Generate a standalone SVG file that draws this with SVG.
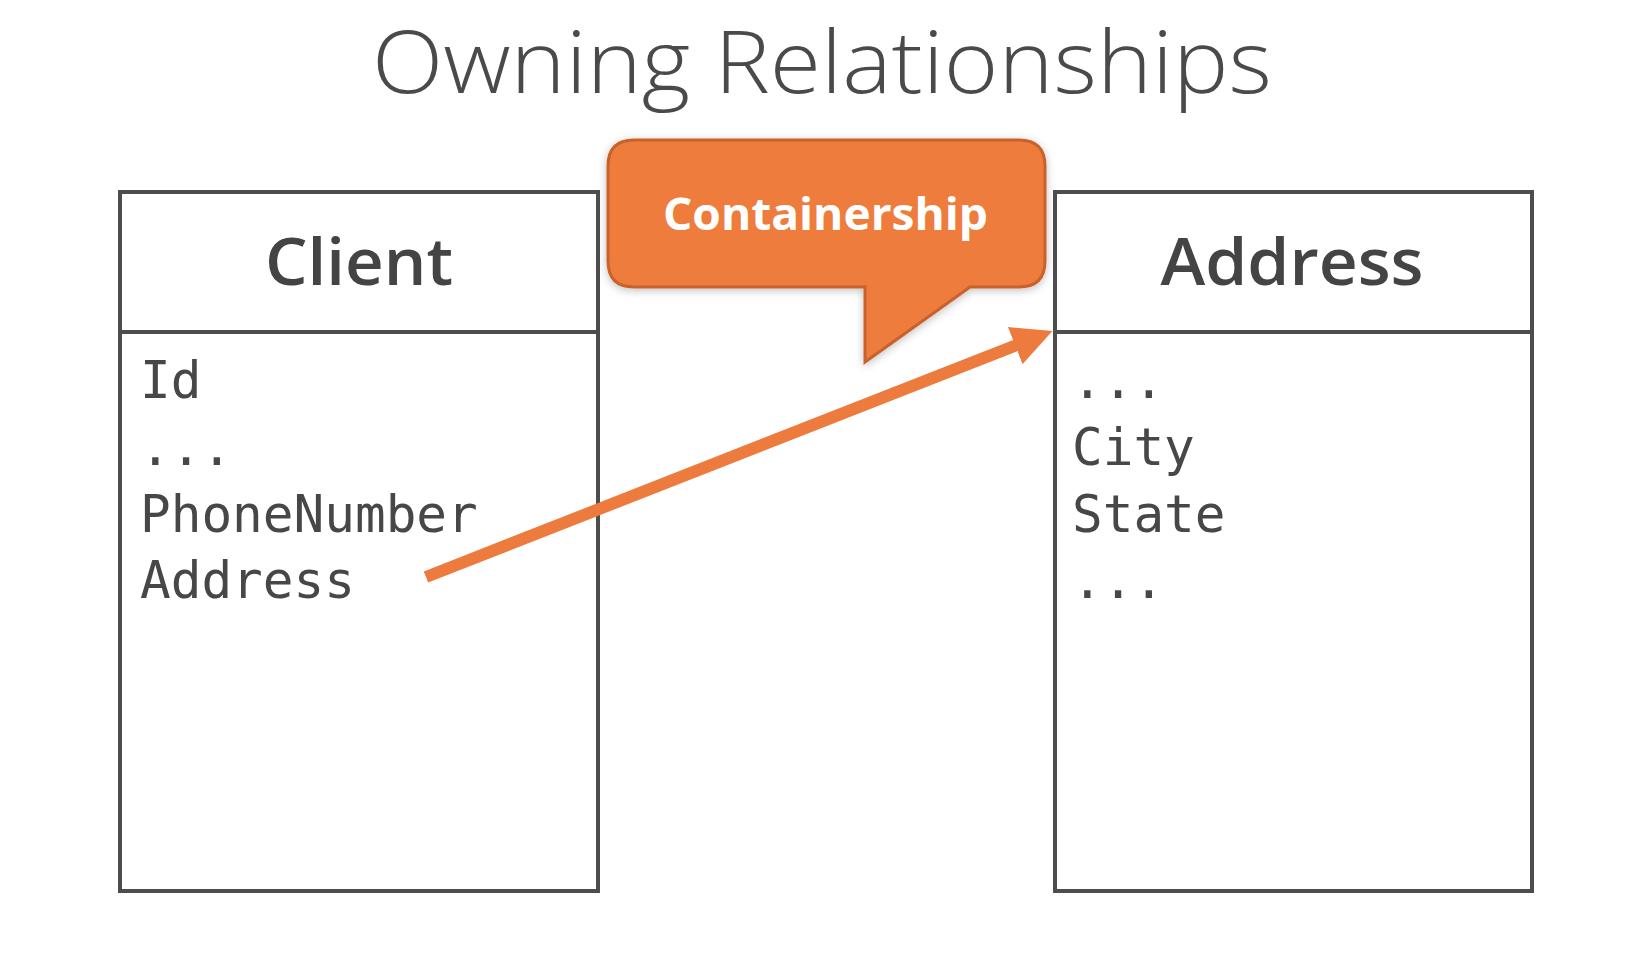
<svg xmlns="http://www.w3.org/2000/svg" width="1632" height="958" viewBox="0 0 1632 958">
  <style>
    .box { fill: #ffffff; stroke: #4d4d4d; stroke-width: 4; }
    .div { stroke: #4d4d4d; stroke-width: 4; }
    .head { font-family: "Open Sans", "Lato", sans-serif; font-weight: 600; font-size: 66px; fill: #444444; text-anchor: middle; }
    .field { font-family: "DejaVu Sans Mono", "Liberation Mono", monospace; font-size: 51px; fill: #474747; }
    .title { font-family: "Open Sans", "Lato", sans-serif; font-weight: 300; font-size: 86px; fill: #4a4a4a; }
    .callout-text { font-family: "Open Sans", "Lato", sans-serif; font-weight: 700; font-size: 45px; fill: #ffffff; }
    .arrow { stroke: #ED7B3D; stroke-width: 12; fill: none; }
  </style>
  <defs>
    <marker id="ah" markerUnits="userSpaceOnUse" viewBox="0 0 40 40" markerWidth="40" markerHeight="40" refX="3" refY="20" orient="auto">
      <path d="M0,0 L40,20 L0,40 Z" fill="#ED7B3D"/>
    </marker>
    <filter id="sh" x="-10%" y="-10%" width="120%" height="130%">
      <feDropShadow dx="0" dy="2" stdDeviation="4" flood-color="#000000" flood-opacity="0.25"/>
    </filter>
  </defs>
  <rect width="1632" height="958" fill="#ffffff"/>

  <text class="title" x="372" y="93" textLength="900" lengthAdjust="spacingAndGlyphs">Owning Relationships</text>

  <g id="client">
    <rect class="box" x="120" y="192" width="478" height="699"/>
    <line class="div" x1="120" y1="332" x2="598" y2="332"/>
    <text class="head" x="359" y="285" textLength="188" lengthAdjust="spacingAndGlyphs">Client</text>
    <text class="field" x="140" y="398">Id</text>
    <text class="field" x="140" y="465">...</text>
    <text class="field" x="140" y="532">PhoneNumber</text>
    <text class="field" x="140" y="598">Address</text>
  </g>

  <g id="address">
    <rect class="box" x="1055" y="192" width="477" height="699"/>
    <line class="div" x1="1055" y1="332" x2="1532" y2="332"/>
    <text class="head" x="1292" y="285" textLength="263" lengthAdjust="spacingAndGlyphs">Address</text>
    <text class="field" x="1072" y="398">...</text>
    <text class="field" x="1072" y="465">City</text>
    <text class="field" x="1072" y="532">State</text>
    <text class="field" x="1072" y="598">...</text>
  </g>

  <g id="containership">
    <path d="M634,140 H1019 Q1045,140 1045,166 V261 Q1045,287 1019,287 H970 L865,362 V287 H634 Q608,287 608,261 V166 Q608,140 634,140 Z" fill="#ED7B3D" stroke="#C9622C" stroke-width="3" filter="url(#sh)"/>
    <text class="callout-text" x="663" y="230" textLength="325" lengthAdjust="spacingAndGlyphs">Containership</text>
  </g>

  <g id="connectors">
    <line class="arrow" x1="426" y1="577" x2="1018" y2="344.5" marker-end="url(#ah)"/>
  </g>
</svg>
